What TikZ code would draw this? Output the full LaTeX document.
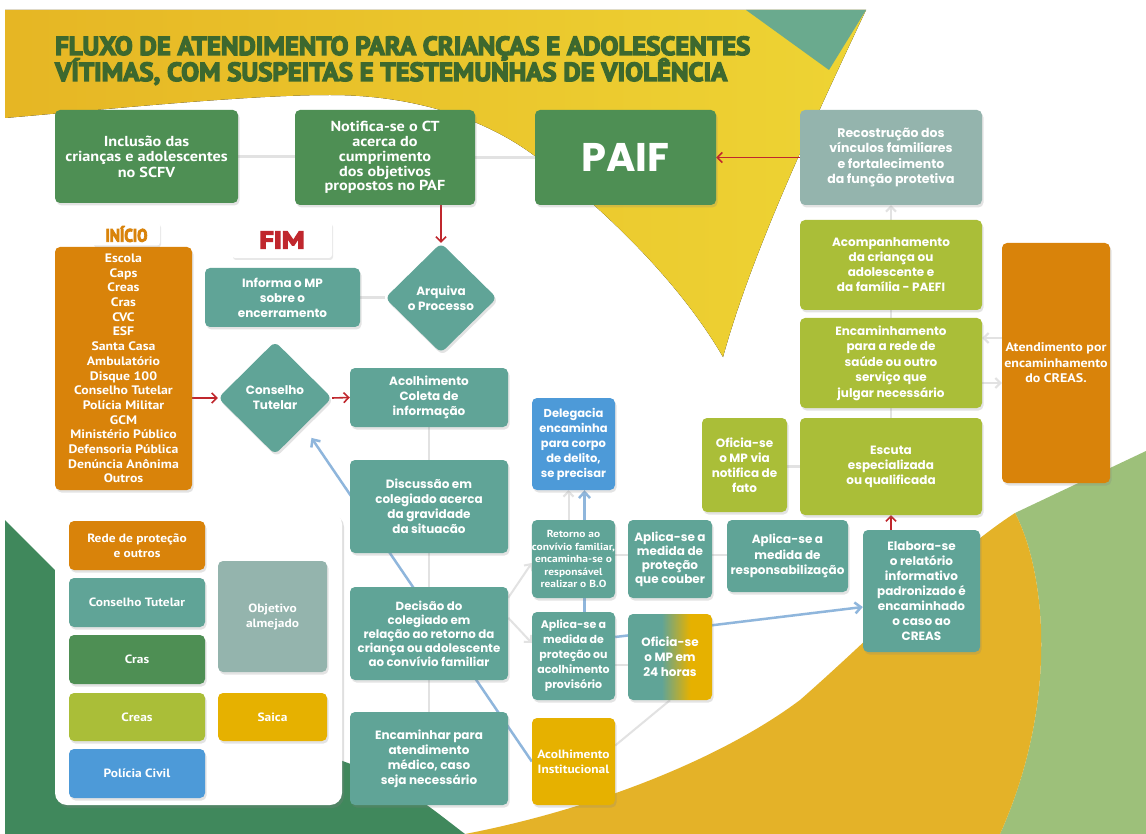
\documentclass[tikz,border=0pt]{standalone}
\usepackage{graphicx}
\usepackage{fontspec}
\setmainfont{PT Sans}
\newfontfamily\pop{Poppins}
\newfontfamily\pts{PT Sans}[FakeStretch=1.12]
\newfontfamily\tfont{PT Sans}[FakeBold=5]
\usetikzlibrary{shapes.geometric,arrows.meta,shadows,calc}
\pgfdeclarelayer{back}\pgfdeclarelayer{lines}
\pgfsetlayers{back,lines,main}
\definecolor{corange}{RGB}{217,131,10}
\definecolor{cteal}{RGB}{96,164,151}
\definecolor{ccras}{RGB}{78,143,84}
\definecolor{ccreas}{RGB}{170,190,56}
\definecolor{cblue}{RGB}{77,154,216}
\definecolor{cobj}{RGB}{148,180,173}
\definecolor{csaica}{RGB}{230,177,0}
\definecolor{cred}{RGB}{192,39,45}
\definecolor{clblue}{RGB}{143,182,220}
\definecolor{ctitle}{RGB}{61,104,46}
\definecolor{cyel1}{RGB}{230,182,36}
\definecolor{cyel2}{RGB}{238,212,52}
\definecolor{ctri}{RGB}{106,170,142}
\definecolor{cgreenbl}{RGB}{64,136,92}
\definecolor{cgreenbr}{RGB}{157,192,122}
\definecolor{cyelarc}{RGB}{228,178,40}
\definecolor{cline}{RGB}{226,226,226}
\pgfdeclarehorizontalshading{tealsaica}{100bp}{color(0bp)=(cteal); color(45bp)=(cteal); color(62bp)=(csaica); color(100bp)=(csaica)}
\newcommand\ttlline[2]{\scalebox{1}[0.8]{\resizebox{#1}{!}{\scalebox{0.82}[1]{\tfont\bfseries #2}}}}
\tikzset{
 bx/.style={rounded corners=5pt, text=white, align=center, inner sep=1pt,
   drop shadow={opacity=0.22, shadow xshift=1.5pt, shadow yshift=-2.5pt}},
 mf/.style={font=\pop\bfseries\fontsize{12}{15}\selectfont},
 pf/.style={font=\pts\bfseries\fontsize{14.5}{15.5}\selectfont},
 lf/.style={font=\pts\bfseries\fontsize{12}{15}\selectfont},
 wline/.style={draw=cline, line width=2.5pt},
 warrow/.style={draw=cline, line width=2pt, -{Straight Barb[length=5pt,width=10pt]}},
 rarrow/.style={draw=cred, line width=1.6pt, -{Straight Barb[length=5pt,width=10pt]}},
 barrow/.style={draw=clblue, line width=2.5pt, -{Straight Barb[length=6pt,width=11pt]}},
 dia/.style={bx, mf, shape=diamond, fill=cteal, inner sep=0pt, rounded corners=6pt},
 wlabel/.style={fill=white, rounded corners=3pt, inner sep=0pt,
   drop shadow={opacity=0.18, shadow xshift=1pt, shadow yshift=-2pt}}
}
\begin{document}
\begin{tikzpicture}[x=1pt,y=-1pt]
\useasboundingbox (0,0) rectangle (1146,834);
\begin{pgfonlayer}{back}
\fill[white] (0,0) rectangle (1146,834);
\fill[left color=cyel1,right color=cyel2] (5,10) -- (866,10) .. controls (800,150) and (750,260) .. (723,357)
  .. controls (690,300) and (630,230) .. (540,160) .. controls (500,128) and (430,95) .. (330,95)
  .. controls (250,95) and (120,108) .. (5,118) -- cycle;
\fill[ctri] (746,10) -- (866,10) -- (829,70) -- cycle;
\fill[cgreenbr] (1015,513) -- (1146,451) -- (1146,834) -- (1000,834) .. controls (1060,700) and (1045,570) .. (1015,513) -- cycle;
\fill[cyelarc] (465,834) .. controls (590,810) and (720,760) .. (800,700) .. controls (880,630) and (950,555) .. (1015,513)
  .. controls (1045,570) and (1060,700) .. (1000,834) -- cycle;
\fill[cgreenbl] (5,520) -- (60,575) .. controls (150,660) and (280,745) .. (370,770) .. controls (410,790) and (440,815) .. (465,834) -- (5,834) -- cycle;
\end{pgfonlayer}

% title (two lines in one node)
\node[anchor=base west, text=ctitle, inner sep=0pt] (title) at (55,81)
  {\rlap{\raisebox{26pt}{\ttlline{695pt}{FLUXO DE ATENDIMENTO PARA CRIANÇAS E ADOLESCENTES}}}\ttlline{672pt}{VÍTIMAS, COM SUSPEITAS E TESTEMUNHAS DE VIOLÊNCIA}};

% top row
\node[bx,pf,fill=ccras,minimum width=183pt,minimum height=93pt] (incl) at (146.5,156.5) {Inclusão das\\crianças e adolescentes\\no SCFV};
\node[bx,font=\pts\bfseries\fontsize{14.5}{14.8}\selectfont,fill=ccras,minimum width=180pt,minimum height=95pt] (notif) at (385,157.5) {Notifica-se o CT\\acerca do\\cumprimento\\dos objetivos\\propostos no PAF};
\node[bx,font=\pop\bfseries\fontsize{40}{44}\selectfont,fill=ccras,minimum width=181pt,minimum height=95pt] (paif) at (625.5,157.5) {PAIF};
\node[bx,font=\pop\bfseries\fontsize{12.5}{15.3}\selectfont,fill=cobj,minimum width=182pt,minimum height=95pt] (recos) at (891,157.5) {Recostrução dos\\vínculos familiares\\e fortalecimento\\da função protetiva};

% left column
\node[bx,font=\pts\bfseries\fontsize{12.3}{14.7}\selectfont,fill=corange,minimum width=137pt,minimum height=243pt] (lista) at (123.5,368.5)
 {Escola\\Caps\\Creas\\Cras\\CVC\\ESF\\Santa Casa\\Ambulatório\\Disque 100\\Conselho Tutelar\\Polícia Militar\\GCM\\Ministério Público\\Defensoria Pública\\Denúncia Anônima\\Outros};
\node[wlabel,minimum width=67pt,minimum height=23pt] (ini) at (126.5,234)
 {\textcolor{corange}{\scalebox{0.85}[1]{\tfont\bfseries\fontsize{18}{18}\selectfont INÍCIO}}};
\node[wlabel,minimum width=100pt,minimum height=36pt] (fim) at (282,240)
 {\textcolor{cred}{\resizebox{45pt}{17pt}{\tfont\bfseries FIM}}};
\node[bx,mf,fill=cteal,minimum width=155pt,minimum height=59pt] (informa) at (282.5,297.5) {Informa o MP\\sobre o\\encerramento};
\node[dia,minimum width=112pt,minimum height=110pt] (arq) at (441,298) {Arquiva\\o Processo};
\node[dia,minimum width=114pt,minimum height=113pt] (ct) at (275,398) {Conselho\\Tutelar};

% centre column
\node[bx,mf,fill=cteal,minimum width=158pt,minimum height=59pt] (acolh) at (429,397.5) {Acolhimento\\Coleta de\\informação};
\node[bx,mf,fill=cteal,minimum width=158pt,minimum height=93pt] (discus) at (429,506.5) {Discussão em\\colegiado acerca\\da gravidade\\da situacão};
\node[bx,font=\pop\bfseries\fontsize{11.8}{14}\selectfont,fill=cteal,minimum width=158pt,minimum height=93pt] (decis) at (429,633.5) {Decisão do\\colegiado em\\relação ao retorno da\\criança ou adolescente\\ao convívio familiar};
\node[bx,mf,fill=cteal,minimum width=158pt,minimum height=93pt] (encam) at (429,758.5) {Encaminhar para\\atendimento\\médico, caso\\seja necessário};

% small boxes
\node[bx,font=\pop\bfseries\fontsize{11.5}{15}\selectfont,fill=cblue,minimum width=83pt,minimum height=92pt] (deleg) at (573.5,444) {Delegacia\\encaminha\\para corpo\\de delito,\\se precisar};
\node[bx,font=\pts\bfseries\fontsize{10.2}{12.5}\selectfont,fill=cteal,minimum width=83pt,minimum height=78pt,inner sep=0pt] (retorno) at (573.5,559) {Retorno ao\\convívio familiar,\\encaminha-se o\\responsável\\realizar o B.O};
\node[bx,font=\pop\bfseries\fontsize{12}{14}\selectfont,fill=cteal,minimum width=84pt,minimum height=78pt] (couber) at (670,559) {Aplica-se a\\medida de\\proteção\\que couber};
\node[bx,font=\pop\bfseries\fontsize{12}{15.5}\selectfont,fill=cteal,minimum width=121pt,minimum height=72pt] (respons) at (787.5,556) {Aplica-se a\\medida de\\responsabilização};
\node[bx,mf,fill=cteal,minimum width=117pt,minimum height=122pt] (elabora) at (921.5,591) {Elabora-se\\o relatório\\informativo\\padronizado é\\encaminhado\\o caso ao\\CREAS};
\node[bx,font=\pop\bfseries\fontsize{11}{15}\selectfont,fill=cteal,minimum width=83pt,minimum height=88pt] (provis) at (573.5,656) {Aplica-se a\\medida de\\proteção ou\\acolhimento\\provisório};
\node[bx,mf,shading=tealsaica,minimum width=84pt,minimum height=86pt] (of24) at (670,657) {Oficia-se\\o MP em\\24 horas};
\node[bx,font=\pts\bfseries\fontsize{12}{15}\selectfont,fill=csaica,minimum width=83pt,minimum height=87pt] (acinst) at (573.5,761.5) {Acolhimento\\Institucional};

% right column
\node[bx,mf,fill=ccreas,minimum width=182pt,minimum height=90pt] (acomp) at (891,265) {Acompanhamento\\da criança ou\\adolescente e\\da família - PAEFI};
\node[bx,font=\pop\bfseries\fontsize{12}{15.5}\selectfont,fill=ccreas,minimum width=182pt,minimum height=90pt] (encr) at (891,363) {Encaminhamento\\para a rede de\\saúde ou outro\\serviço que\\julgar necessário};
\node[bx,mf,fill=ccreas,minimum width=182pt,minimum height=97pt] (escuta) at (891,466.5) {Escuta\\especializada\\ou qualificada};
\node[bx,mf,fill=ccreas,minimum width=85pt,minimum height=94pt] (oficiaf) at (744.5,465) {Oficia-se\\o MP via\\notifica de\\fato};
\node[bx,font=\pts\bfseries\fontsize{12.5}{15.5}\selectfont,fill=corange,minimum width=108pt,minimum height=240pt] (atend) at (1056,363) {Atendimento por\\encaminhamento\\do CREAS.};

% legend
\node[fill=white,rounded corners=12pt,minimum width=287pt,minimum height=293pt,
  drop shadow={opacity=0.25, shadow xshift=2pt, shadow yshift=-3pt}] (leg) at (198.5,658.5) {};
\node[bx,lf,fill=corange,minimum width=136pt,minimum height=49pt] (lrede) at (137,545.5) {Rede de proteção\\e outros};
\node[bx,lf,fill=cteal,minimum width=136pt,minimum height=49pt] (lct) at (137,602.5) {Conselho Tutelar};
\node[bx,lf,fill=ccras,minimum width=136pt,minimum height=49pt] (lcras) at (137,659.5) {Cras};
\node[bx,lf,fill=ccreas,minimum width=136pt,minimum height=48pt] (lcreas) at (137,717) {Creas};
\node[bx,lf,fill=cblue,minimum width=136pt,minimum height=49pt] (lpol) at (137,773.5) {Polícia Civil};
\node[bx,lf,fill=cobj,minimum width=109pt,minimum height=111pt] (lobj) at (272.5,616.5) {Objetivo\\almejado};
\node[bx,lf,fill=csaica,minimum width=109pt,minimum height=48pt] (lsaica) at (272.5,717) {Saica};

% connectors
\begin{pgfonlayer}{lines}
\draw[wline] (incl.east) -- (incl.east -| notif.west);
\draw[wline] (notif.east) -- (paif.west);
\draw[rarrow] (recos.west) -- (paif.east);
\draw[rarrow] (arq.north |- notif.south) -- (arq.north);
\draw[wline] (informa.east) -- (informa.east -| arq.west);
\draw[rarrow] (lista.east |- ct.west) -- (ct.west);
\draw[rarrow] (ct.east) -- (acolh.west);
\draw[wline] (acolh.south) -- (discus.north);
\draw[wline] (discus.south) -- (decis.north);
\draw[wline] (decis.south) -- (encam.north);
\draw[barrow, shorten >=14pt] (acinst.west) -- (ct.south east);
\draw[barrow] ($(provis.north)+(11,0)$) -- ($(deleg.south)+(11,0)$);
\draw[warrow] ($(retorno.north)+(-5,0)$) -- ($(deleg.south)+(-5,0)$);
\draw[warrow] ($(decis.north east)+(0,11)$) -- ($(retorno.west)+(0,4)$);
\draw[warrow] ($(decis.north east)+(0,31)$) -- ($(provis.west)+(0,-13)$);
\draw[wline] ($(retorno.east)+(0,-4)$) -- ($(couber.west)+(0,-4)$);
\draw[wline] ($(couber.east)+(0,-4)$) -- ($(respons.east)+(0,-1)$ -| respons.west);
\draw[wline] ($(respons.east)+(0,-1)$) -- ($(respons.east)+(0,-1)$ -| elabora.west);
\draw[rarrow] (escuta.south |- elabora.north) -- (escuta.south);
\draw[wline] (oficiaf.east |- escuta.west) -- (escuta.west);
\draw[wline] (escuta.north) -- (encr.south);
\draw[wline] (encr.north) -- (acomp.south);
\draw[warrow] (acomp.north) -- (recos.south);
\draw[warrow] ($(atend.west)+(0,-25)$) -- ($(encr.east)+(0,-25)$);
\draw[warrow] ($(encr.east)+(0,20)$) -- ($(atend.west)+(0,20)$);
\draw[barrow] ($(provis.east)+(0,-19)$) -- ($(elabora.west)+(0,16)$);
\draw[wline] ($(provis.east)+(0,9)$) -- ($(of24.west)+(0,8)$);
\draw[draw=cline, line width=2pt] (of24.south) -- ($(acinst.east)+(0,-16)$);
\end{pgfonlayer}
\end{tikzpicture}
\end{document}
